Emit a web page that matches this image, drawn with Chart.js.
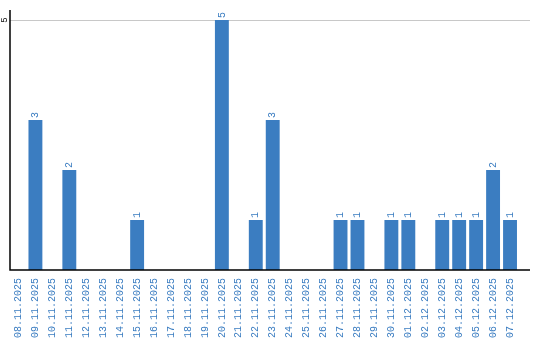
<!DOCTYPE html>
<html>
<head>
<meta charset="utf-8">
<script src="https://cdn.jsdelivr.net/npm/chart.js@4"></script>
<style>
  html, body { margin: 0; padding: 0; background: #fff; }
  #wrap { width: 540px; height: 340px; }
</style>
</head>
<body>
<div id="wrap"><canvas id="dayChart"></canvas></div>
<script>
// fechas y cantidades
const fechas = ['08.11.2025', '09.11.2025', '10.11.2025', '11.11.2025', '12.11.2025', '13.11.2025',
    '14.11.2025', '15.11.2025', '16.11.2025', '17.11.2025', '18.11.2025', '19.11.2025', '20.11.2025',
    '21.11.2025', '22.11.2025', '23.11.2025', '24.11.2025', '25.11.2025', '26.11.2025', '27.11.2025',
    '28.11.2025', '29.11.2025', '30.11.2025', '01.12.2025', '02.12.2025', '03.12.2025', '04.12.2025',
    '05.12.2025', '06.12.2025', '07.12.2025'];
const cantidades = [0, 3, 0, 2, 0, 0, 0, 1, 0, 0, 0, 0, 5, 0, 1, 3, 0, 0, 0, 1, 1, 0, 1, 1, 0, 1, 1, 1, 2, 1];
const yTicks = [5];

const azul = '#3b7dc1';
const fuente = '"Liberation Mono", "DejaVu Sans Mono", monospace';

// lineas de eje y rejilla que llegan hasta el borde derecho
const ejesPlugin = {
    id: 'ejes',
    beforeDatasetsDraw(chart) {
        const { ctx, chartArea, scales } = chart;
        const xEnd = 530;
        ctx.save();
        ctx.strokeStyle = '#c8c8c8';
        ctx.lineWidth = 1;
        yTicks.forEach(v => {
            const y = Math.round(scales.y.getPixelForValue(v)) + 0.5;
            ctx.beginPath();
            ctx.moveTo(chartArea.left, y);
            ctx.lineTo(xEnd, y);
            ctx.stroke();
        });
        // etiquetas del eje y, giradas
        ctx.fillStyle = '#000';
        ctx.font = '9px ' + fuente;
        ctx.textAlign = 'center';
        ctx.textBaseline = 'middle';
        yTicks.forEach(v => {
            const y = scales.y.getPixelForValue(v);
            ctx.save();
            ctx.translate(5, y);
            ctx.rotate(-Math.PI / 2);
            ctx.fillText(String(v), 0, 0);
            ctx.restore();
        });
        ctx.restore();
    },
    afterDatasetsDraw(chart) {
        const { ctx, chartArea, scales } = chart;
        ctx.save();
        ctx.strokeStyle = '#000';
        ctx.lineWidth = 1.5;
        const y0 = scales.y.getPixelForValue(0);
        ctx.beginPath();
        ctx.moveTo(chartArea.left, chartArea.top);
        ctx.lineTo(chartArea.left, y0);
        ctx.lineTo(530, y0);
        ctx.stroke();

        // valores encima de las barras
        ctx.fillStyle = azul;
        ctx.font = '10px ' + fuente;
        ctx.textAlign = 'left';
        ctx.textBaseline = 'middle';
        const meta = chart.getDatasetMeta(0);
        meta.data.forEach((bar, i) => {
            if (!cantidades[i]) return;
            ctx.save();
            ctx.translate(bar.x, bar.y - 2);
            ctx.rotate(-Math.PI / 2);
            ctx.fillText(String(cantidades[i]), 0, 0);
            ctx.restore();
        });
        ctx.restore();
    }
};

new Chart(document.getElementById('dayChart').getContext('2d'), {
    type: 'bar',
    data: {
        labels: fechas,
        datasets: [{
            data: cantidades,
            backgroundColor: azul,
            barPercentage: 0.82,
            categoryPercentage: 1
        }]
    },
    options: {
        responsive: true,
        maintainAspectRatio: false,
        animation: false,
        layout: { padding: { left: 10, top: 10, right: 21.5, bottom: 0 } },
        plugins: { legend: { display: false }, tooltip: { enabled: false } },
        scales: {
            x: {
                grid: { display: false },
                border: { display: false },
                ticks: {
                    color: azul,
                    font: { family: fuente, size: 10 },
                    minRotation: 90,
                    maxRotation: 90,
                    autoSkip: false,
                    padding: 0
                },
                afterFit(scale) { scale.height = 70; }
            },
            y: {
                min: 0,
                max: 5.2,
                grid: { display: false },
                border: { display: false },
                ticks: { display: false, stepSize: 5 },
                afterFit(scale) { scale.width = 0; }
            }
        }
    },
    plugins: [ejesPlugin]
});
</script>
</body>
</html>
